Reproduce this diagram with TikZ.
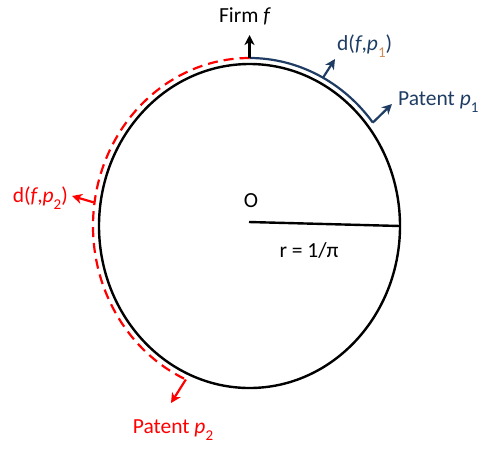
\documentclass[tikz,border=0pt]{standalone}
\usepackage{fontspec}
\setmainfont{Carlito}
\usetikzlibrary{arrows.meta}
\definecolor{navy}{RGB}{31,61,100}
\definecolor{redd}{RGB}{255,0,0}
\definecolor{subor}{RGB}{205,140,90}
\newcommand\sbs[1]{\raisebox{-0.3em}{\fontsize{15}{15}\selectfont #1}}
\begin{document}
\begin{tikzpicture}[x=1pt,y=-1pt,
  lbl/.style={inner sep=0pt,font=\fontsize{21.5}{25}\selectfont},
  arr/.style={line width=2.2pt,-{Stealth[length=10pt,width=10pt,inset=3pt]}},
]
\useasboundingbox (0,0) rectangle (486,448);
\coordinate (O) at (249.5,226);
% circle
\draw[line width=2.4pt] (O) ellipse [x radius=150.5pt, y radius=162pt];
\coordinate (R) at (400,226);
\draw[line width=2.4pt] (249,222) -- (R);
\node[lbl] (Olab) at (251,201) {O};
\node[lbl] (rlab) at (309,250) {r = 1/π};
% top point
\coordinate (T) at (249.5,58);
% blue arc
\draw[navy,line width=2.2pt] (T) arc[start angle=90,end angle=38,x radius=156.5pt,y radius=168pt] coordinate (P1);
\coordinate (P1tip) at (392,104);
\draw[navy,arr] (P1) -- (P1tip);
\coordinate (M1) at (323,77.7);
\coordinate (M1tip) at (335,59);
\draw[navy,arr] (M1) -- (M1tip);
% red dashed arc
\draw[redd,line width=2.2pt,dash pattern=on 10pt off 6pt] (T) arc[start angle=90,end angle=246,x radius=156.5pt,y radius=168pt] coordinate (P2);
\coordinate (P2tip) at (171,403);
\draw[redd,arr] (P2) -- (P2tip);
\coordinate (M2) at (94.5,202.6);
\coordinate (M2tip) at (72,196);
\draw[redd,arr] (M2) -- (M2tip);
% firm arrow
\coordinate (Ftip) at (249.5,35);
\draw[arr] (T) -- (Ftip);
% labels
\node[lbl] (firm) at (245,16) {Firm \textit{f}};
\node[lbl,navy,anchor=west] (d1) at (337,46) {d(\textit{f},\textit{p}\sbs{\color{subor}1})};
\node[lbl,navy,anchor=west] (pat1) at (398,102) {Patent \textit{p}\sbs{1}};
\node[lbl,redd,anchor=east] (d2) at (68,198) {d(\textit{f},\textit{p}\sbs{2})};
\node[lbl,redd] (pat2) at (173,430) {Patent \textit{p}\sbs{2}};
\end{tikzpicture}
\end{document}
